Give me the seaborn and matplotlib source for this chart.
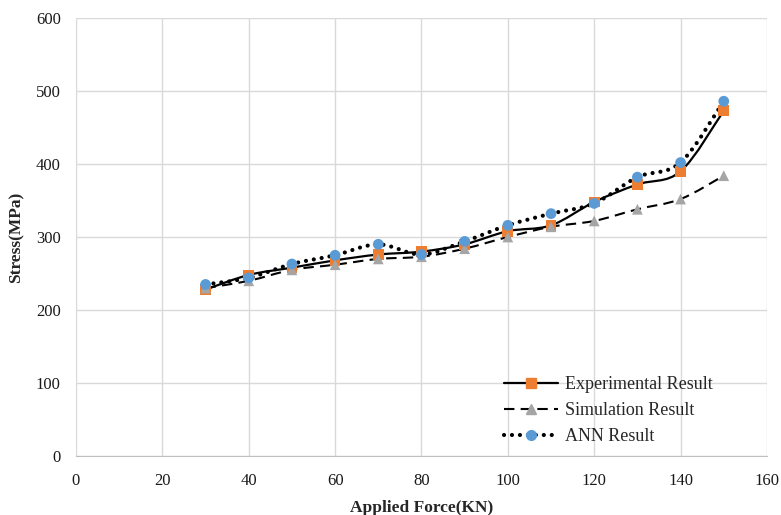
import numpy as np
import pandas as pd
import matplotlib
matplotlib.use("Agg")
import matplotlib.pyplot as plt
from matplotlib.path import Path
from matplotlib.patches import PathPatch
from matplotlib.lines import Line2D
import seaborn as sns

# --- data ---
force = [30, 40, 50, 60, 70, 80, 90, 100, 110, 120, 130, 140, 150]
experimental = [228, 248, 258, 268, 276, 280, 290, 308, 316, 348, 372, 390, 473]
simulation = [230, 240, 255, 262, 270, 273, 284, 300, 314, 322, 338, 352, 384]
ann = [235, 244, 263, 275, 290, 276, 294, 316, 332, 346, 382, 402, 486]

series_names = ["Experimental Result", "Simulation Result", "ANN Result"]
colors = ["#ED7D31", "#A5A5A5", "#5B9BD5"]
markers = ["s", "^", "o"]
linestyles = ["-", (0, (5, 3)), (0, (0.01, 1.9))]
linewidths = [1.6, 1.5, 3.0]
capstyles = ["butt", "butt", "round"]

df = pd.DataFrame({
    "force": force * 3,
    "stress": experimental + simulation + ann,
    "series": [n for n in series_names for _ in force],
})

sns.set_style("white")
plt.rcParams["font.family"] = ["Liberation Serif", "DejaVu Serif"]

fig = plt.figure(figsize=(7.81, 5.15), dpi=100)
ax = fig.add_axes([0.0973, 0.1146, 0.8847, 0.8504])


def smooth_path(xs, ys):
    # Excel-style smoothed line: cubic Bezier through every point
    pts = np.column_stack([xs, ys]).astype(float)
    verts = [pts[0]]
    codes = [Path.MOVETO]
    n = len(pts)
    for i in range(n - 1):
        p0 = pts[i - 1] if i > 0 else pts[i]
        p1 = pts[i]
        p2 = pts[i + 1]
        p3 = pts[i + 2] if i + 2 < n else pts[i + 1]
        c1 = p1 + (p2 - p0) / 6.0
        c2 = p2 - (p3 - p1) / 6.0
        verts += [c1, c2, p2]
        codes += [Path.CURVE4] * 3
    return Path(verts, codes)


for name, ls, lw, cs in zip(series_names, linestyles, linewidths, capstyles):
    sub = df[df["series"] == name]
    patch = PathPatch(smooth_path(sub["force"], sub["stress"]), facecolor="none",
                      edgecolor="black", linestyle=ls, linewidth=lw, zorder=2,
                      capstyle=cs)
    ax.add_patch(patch)

sns.scatterplot(data=df, x="force", y="stress", hue="series", style="series",
                palette=dict(zip(series_names, colors)),
                markers=dict(zip(series_names, markers)),
                s=60, edgecolor="none", legend=False, ax=ax, zorder=3)

ax.set_xlim(0, 160)
ax.set_ylim(0, 600)
ax.set_xticks(range(0, 161, 20))
ax.set_yticks(range(0, 601, 100))
ax.grid(True, color="#d9d9d9", linewidth=1)
ax.set_axisbelow(True)
for side in ["top", "right", "left"]:
    ax.spines[side].set_visible(False)
ax.spines["bottom"].set_color("#bfbfbf")
ax.tick_params(axis="both", length=0, labelsize=12, colors="#1a1a1a")
ax.tick_params(axis="x", pad=12)
ax.tick_params(axis="y", pad=11)

ax.set_xlabel("Applied Force(KN)", fontsize=12.5, fontweight="bold", labelpad=8)
ax.set_ylabel("Stress(MPa)", fontsize=12.5, fontweight="bold", labelpad=8)

handles = []
for ls, lw, m, c, cs in zip(linestyles, linewidths, markers, colors, capstyles):
    h = Line2D([0], [0], color="black", linestyle=ls, linewidth=lw, marker=m,
               markerfacecolor=c, markeredgecolor=c, markersize=7)
    h.set_dash_capstyle(cs)
    handles.append(h)
ax.legend(handles, series_names, loc="lower right", bbox_to_anchor=(0.945, -0.012),
          frameon=False, fontsize=13, handlelength=3, handletextpad=0.4,
          labelspacing=0.5)

fig.savefig("out.png", dpi=100)
